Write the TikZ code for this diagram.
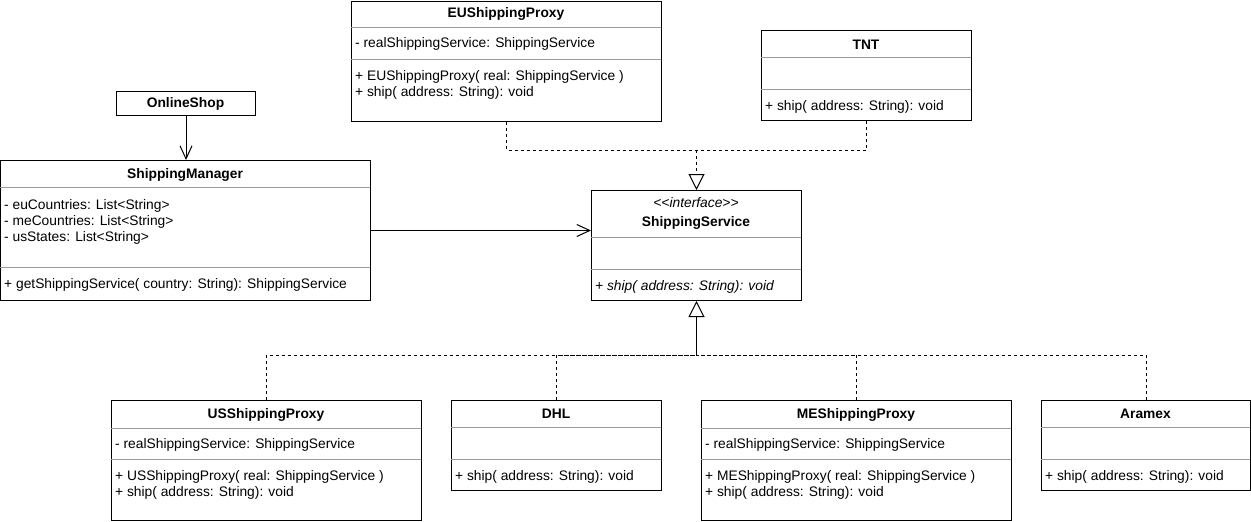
\documentclass[tikz,border=0pt]{standalone}
\usepackage{fontspec}
\setmainfont{Liberation Sans}
\usetikzlibrary{arrows.meta,calc}
\begin{document}
\begin{tikzpicture}[x=1pt,y=-1pt,
  box/.style={draw=black,line width=1pt,fill=white,inner sep=0pt,anchor=north west},
  div/.style={draw=black!40,line width=1pt},
  txt/.style={anchor=west,inner sep=0pt,font=\fontsize{13.8}{16}\selectfont},
  ttl/.style={anchor=center,inner sep=0pt,font=\fontsize{13.8}{16}\selectfont\bfseries},
  ster/.style={anchor=center,inner sep=0pt,font=\fontsize{13.8}{16}\selectfont\itshape},
  dep/.style={line width=1pt,dash pattern=on 3pt off 3pt},
  real/.style={line width=1pt},
  tri/.style={-{Triangle[open,length=16pt,width=16pt,fill=white]}},
  barb/.style={-{Straight Barb[length=13pt,width=12pt]}},
]
\useasboundingbox (0,0) rectangle (1251,522);

% EUShippingProxy
\node[box,minimum width=310pt,minimum height=120pt] (eu) at (351,1) {};
\draw[div] (351,27) -- (661,27);
\draw[div] (351,59) -- (661,59);
\node[ttl] (eut) at (506,13.5) {EUShippingProxy};
\node[txt] (eua) at (355,43.5) {- realShippingService: ShippingService};
\node[txt] (eum1) at (355,76.5) {+ EUShippingProxy( real: ShippingService )};
\node[txt] (eum2) at (355,92.5) {+ ship( address: String): void};

% TNT
\node[box,minimum width=210pt,minimum height=90pt] (tnt) at (761,30) {};
\draw[div] (761,57) -- (971,57);
\draw[div] (761,89) -- (971,89);
\node[ttl] (tntt) at (866,44.5) {TNT};
\node[txt] (tntm) at (765,106.5) {+ ship( address: String): void};

% OnlineShop
\node[box,minimum width=139pt,minimum height=24pt] (os) at (116,91) {};
\node[ttl] (ost) at (185.5,103.5) {OnlineShop};

% ShippingManager
\node[box,minimum width=370pt,minimum height=140pt] (sm) at (0,160) {};
\draw[div] (0,187) -- (370,187);
\draw[div] (0,267) -- (370,267);
\node[ttl] (smt) at (185,174.5) {ShippingManager};
\node[txt] (sma1) at (4,205.5) {- euCountries: List<String>};
\node[txt] (sma2) at (4,221.5) {- meCountries: List<String>};
\node[txt] (sma3) at (4,237.5) {- usStates: List<String>};
\node[txt] (smm) at (4,284.5) {+ getShippingService( country: String): ShippingService};

% ShippingService
\node[box,minimum width=210pt,minimum height=110pt] (ss) at (591,190) {};
\draw[div] (591,237) -- (801,237);
\draw[div] (591,269) -- (801,269);
\node[ster] (sss) at (696,202.5) {<{}<interface>{}>};
\node[ttl] (sst) at (696,222.5) {ShippingService};
\node[txt,font=\fontsize{13.8}{16}\selectfont\itshape] (ssm) at (595,286.5) {+ ship( address: String): void};

% USShippingProxy
\node[box,minimum width=310pt,minimum height=120pt] (us) at (111,400) {};
\draw[div] (111,428) -- (421,428);
\draw[div] (111,459) -- (421,459);
\node[ttl] (ust) at (266,414.5) {USShippingProxy};
\node[txt] (usa) at (115,444.5) {- realShippingService: ShippingService};
\node[txt] (usm1) at (115,476.5) {+ USShippingProxy( real: ShippingService )};
\node[txt] (usm2) at (115,492.5) {+ ship( address: String): void};

% DHL
\node[box,minimum width=210pt,minimum height=90pt] (dhl) at (451,400) {};
\draw[div] (451,427) -- (661,427);
\draw[div] (451,459) -- (661,459);
\node[ttl] (dhlt) at (556,413.5) {DHL};
\node[txt] (dhlm) at (455,476.5) {+ ship( address: String): void};

% MEShippingProxy
\node[box,minimum width=310pt,minimum height=120pt] (me) at (701,400) {};
\draw[div] (701,428) -- (1011,428);
\draw[div] (701,459) -- (1011,459);
\node[ttl] (met) at (856,414.5) {MEShippingProxy};
\node[txt] (mea) at (705,444.5) {- realShippingService: ShippingService};
\node[txt] (mem1) at (705,476.5) {+ MEShippingProxy( real: ShippingService )};
\node[txt] (mem2) at (705,492.5) {+ ship( address: String): void};

% Aramex
\node[box,minimum width=209pt,minimum height=90pt] (ar) at (1041,400) {};
\draw[div] (1041,427) -- (1250,427);
\draw[div] (1041,459) -- (1250,459);
\node[ttl] (art) at (1145.5,413.5) {Aramex};
\node[txt] (arm) at (1045,476.5) {+ ship( address: String): void};

% connectors
\coordinate (topj) at (ss.north |- 0,150);
\coordinate (botj) at (ss.south |- 0,355);
\draw[dep] (eu.south) |- (topj);
\draw[dep] (tnt.south) |- (topj);
\draw[dep,tri] (topj) -- (ss.north);

\draw[dep] (us.north) |- (botj);
\draw[dep] (dhl.north) |- (botj);
\draw[dep] (me.north) |- (botj);
\draw[dep] (ar.north) |- (botj);
\draw[real,tri] (botj) -- (ss.south);

\draw[real,barb] (os.south) -- (os.south |- sm.north);
\draw[real,barb] (sm.east) -- (sm.east -| ss.west);
\end{tikzpicture}
\end{document}
